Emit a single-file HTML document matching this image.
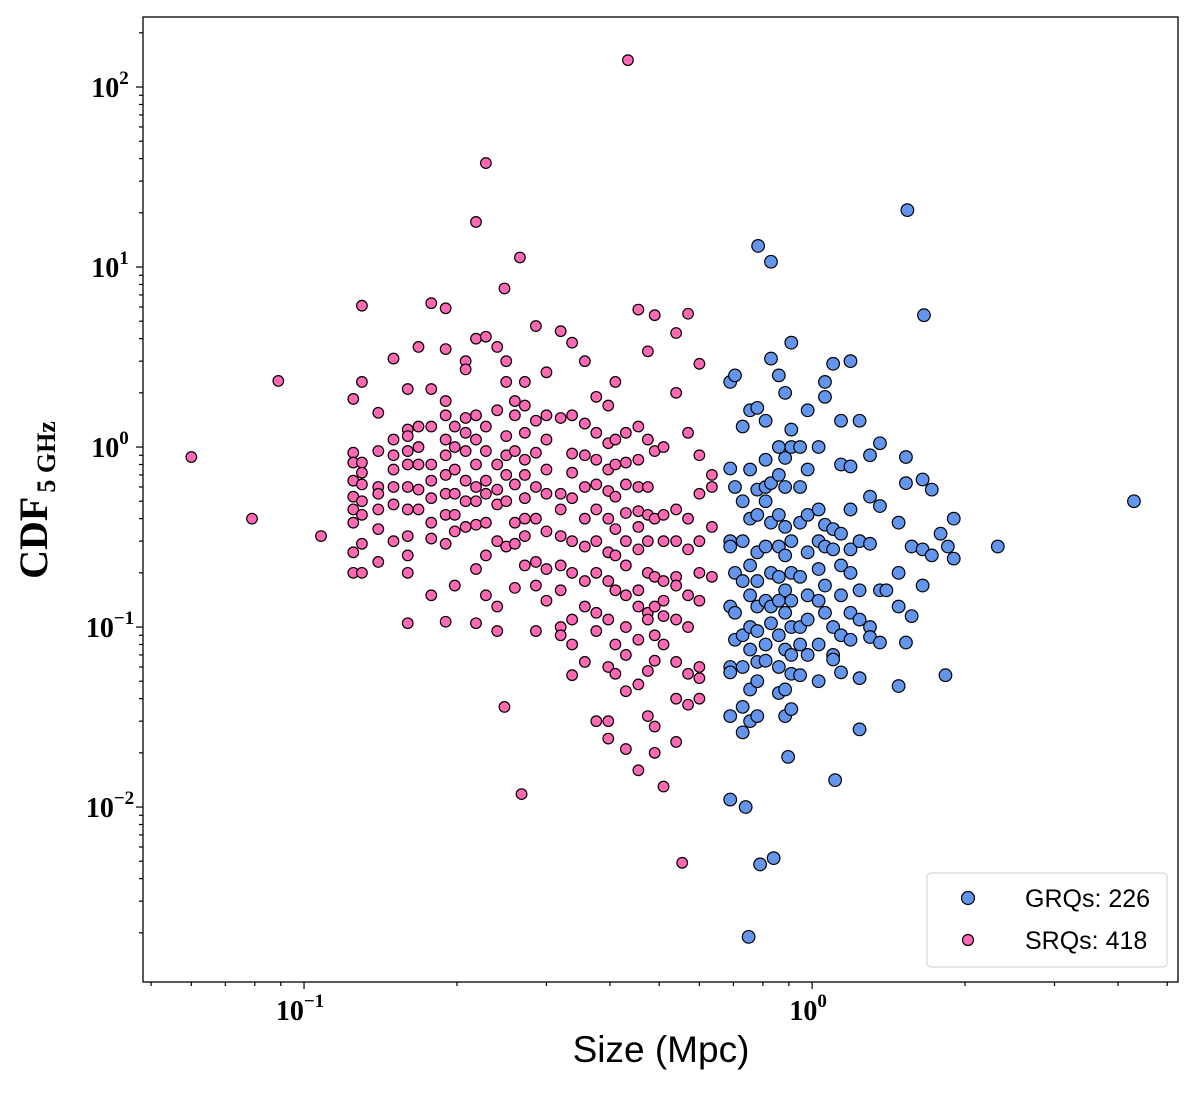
<!DOCTYPE html>
<html><head><meta charset="utf-8"><style>
body{margin:0;background:#fff;}
svg text{font-family:"Liberation Serif",serif;}
</style></head><body>
<svg id="chart" width="1200" height="1091" viewBox="0 0 1200 1091" xmlns="http://www.w3.org/2000/svg">
<g id="marks"></g>
<rect x="143" y="17" width="1035" height="965" fill="none" stroke="#000" stroke-width="1.3"/>
<g id="axes"></g>
<text x="661" y="1062" text-anchor="middle" font-size="37" style="font-family:'Liberation Sans','DejaVu Sans',sans-serif">Size (Mpc)</text>
<text transform="translate(47,500) rotate(-90)" text-anchor="middle" font-size="40" font-weight="bold">CDF<tspan font-size="26" dx="4" dy="8">5 GHz</tspan></text>
<g>
<rect x="927" y="873" width="240" height="94" rx="4" fill="#fff" stroke="#ccc"/>
<circle cx="968" cy="898" r="6.5" fill="#6495ed" stroke="#000" stroke-width="1.2"/>
<text x="1025" y="907" font-size="25" style="font-family:'Liberation Sans',sans-serif">GRQs: 226</text>
<circle cx="968" cy="940" r="5.5" fill="#ff69b4" stroke="#000" stroke-width="1.2"/>
<text x="1025" y="949" font-size="25" style="font-family:'Liberation Sans',sans-serif">SRQs: 418</text>
</g>
</svg>
<script>
const pinkX=[0.06,0.079,0.089,0.108,0.434,0.228,0.218,0.266,0.248,0.268,0.555,0.248];
const pinkY=[0.88,0.40,2.33,0.32,141,37.8,17.8,11.3,7.6,0.0118,0.0049,0.036];
const pinkCols=[
[0.125,[0.93,0.82,0.65,0.53,0.45,0.38,0.26,0.20,1.85]],
[0.13,[6.1,2.3,0.82,0.72,0.62,0.5,0.42,0.29,0.20]],
[0.14,[1.55,0.95,0.6,0.55,0.45,0.35,0.23]],
[0.15,[3.1,1.1,0.9,0.75,0.6,0.48,0.3]],
[0.16,[2.1,1.25,1.15,0.95,0.8,0.6,0.45,0.32,0.25,0.2,0.105]],
[0.168,[3.6,1.3,1.0,0.8,0.58,0.45]],
[0.178,[6.3,2.1,1.3,0.8,0.65,0.52,0.38,0.31,0.15]],
[0.19,[5.9,3.5,1.8,1.5,1.1,0.9,0.7,0.55,0.42,0.29,0.107]],
[0.198,[1.3,1.0,0.75,0.55,0.42,0.34,0.17]],
[0.208,[3.0,2.7,1.45,1.2,0.95,0.65,0.5,0.36]],
[0.218,[4.0,1.5,1.1,0.8,0.6,0.5,0.37,0.21,0.105]],
[0.228,[4.1,1.3,0.95,0.65,0.55,0.38,0.25,0.15]],
[0.24,[3.6,1.6,0.8,0.58,0.48,0.3,0.13,0.095]],
[0.25,[3.0,2.3,1.15,0.9,0.7,0.5,0.28]],
[0.26,[1.8,1.5,0.95,0.62,0.38,0.29,0.165]],
[0.272,[2.3,1.7,1.2,0.85,0.7,0.52,0.22,0.4,0.32]],
[0.286,[4.7,1.4,0.93,0.6,0.4,0.23,0.17,0.095]],
[0.3,[2.6,1.5,1.1,0.75,0.55,0.34,0.21,0.14]],
[0.32,[4.4,1.45,0.55,0.45,0.32,0.22,0.16,0.1,0.09]],
[0.337,[3.8,1.5,0.92,0.72,0.52,0.3,0.2,0.11,0.08,0.054]],
[0.357,[3.0,1.35,0.9,0.6,0.4,0.28,0.18,0.13,0.064]],
[0.376,[1.9,1.2,0.85,0.62,0.45,0.3,0.2,0.12,0.095,0.03]],
[0.397,[1.7,1.05,0.75,0.57,0.4,0.26,0.18,0.11,0.06,0.024,0.03]],
[0.41,[2.3,1.1,0.8,0.53,0.35,0.25,0.16,0.08,0.055]],
[0.43,[1.2,0.82,0.62,0.43,0.3,0.22,0.15,0.1,0.07,0.044,0.021]],
[0.455,[5.8,1.3,0.85,0.6,0.44,0.36,0.27,0.16,0.13,0.085,0.048,0.016]],
[0.475,[3.4,1.1,0.6,0.42,0.3,0.2,0.12,0.11,0.057,0.032]],
[0.49,[5.4,0.95,0.4,0.19,0.13,0.09,0.065,0.028,0.02]],
[0.51,[1.0,0.42,0.3,0.18,0.14,0.115,0.08,0.013]],
[0.54,[4.3,2.0,0.45,0.3,0.19,0.17,0.11,0.064,0.04,0.023]],
[0.57,[5.5,1.2,0.4,0.27,0.15,0.1,0.055,0.037]],
[0.6,[2.9,0.9,0.55,0.3,0.2,0.14,0.06,0.04,0.052]],
[0.635,[0.7,0.6,0.36,0.19]]
];
const blueX=[1.54,1.66,0.783,0.83,4.3,2.32,0.75,0.79,0.84,0.69,0.74,0.897,1.11,1.83];
const blueY=[20.7,5.4,13.1,10.7,0.50,0.28,0.0019,0.0048,0.0052,0.011,0.0100,0.019,0.0141,0.054];
const blueCols=[
[0.69,[2.3,0.76,0.3,0.28,0.13,0.06,0.056,0.032]],
[0.705,[2.5,0.6,0.2,0.12,0.085]],
[0.73,[1.3,0.5,0.3,0.18,0.09,0.06,0.036,0.026]],
[0.755,[1.6,0.75,0.4,0.22,0.15,0.1,0.075,0.045,0.03]],
[0.78,[1.65,0.58,0.42,0.26,0.18,0.13,0.095,0.064,0.05,0.032]],
[0.81,[1.4,0.85,0.6,0.5,0.28,0.14,0.08,0.065]],
[0.83,[3.1,0.63,0.38,0.2,0.13,0.105]],
[0.86,[2.5,1.0,0.7,0.42,0.28,0.19,0.14,0.09,0.06,0.043]],
[0.885,[2.0,0.87,0.6,0.36,0.25,0.16,0.12,0.075,0.045,0.032]],
[0.91,[3.8,1.25,1.0,0.3,0.2,0.14,0.1,0.07,0.055,0.035]],
[0.947,[1.0,0.6,0.38,0.19,0.1,0.08,0.054]],
[0.98,[1.6,0.75,0.42,0.26,0.15,0.11,0.07]],
[1.03,[1.0,0.45,0.3,0.21,0.14,0.08,0.05]],
[1.06,[2.3,1.9,0.37,0.28,0.17,0.12]],
[1.1,[2.9,0.35,0.27,0.1,0.07,0.066]],
[1.14,[1.4,0.8,0.33,0.22,0.15,0.09,0.056]],
[1.19,[3.0,0.78,0.45,0.27,0.2,0.12,0.085]],
[1.24,[1.4,0.3,0.16,0.11,0.052,0.027]],
[1.3,[0.9,0.53,0.29,0.1,0.088]],
[1.36,[1.05,0.47,0.16,0.082]],
[1.4,[0.16]],
[1.48,[0.2,0.38,0.13,0.047]],
[1.53,[0.88,0.63,0.082]],
[1.57,[0.28,0.115]],
[1.65,[0.66,0.27,0.17]],
[1.72,[0.58,0.25]],
[1.79,[0.33]],
[1.85,[0.28]],
[1.9,[0.4,0.24]]
];
const xTickLabels=["10","10"];const xTickExp=["\u22121","0"];const xTickVals=[0.1,1];
const yTickVals=[0.01,0.1,1,10,100];const yTickExp=["\u22122","\u22121","0","1","2"];

const NS="http://www.w3.org/2000/svg";
const X0=143,X1=1178,Y0=17,Y1=982;
const xlo=Math.log10(0.0482),xhi=Math.log10(5.25),ylo=-2.972,yhi=2.389;
function sx(v){return X0+(Math.log10(v)-xlo)/(xhi-xlo)*(X1-X0);}
function sy(v){return Y1-(Math.log10(v)-ylo)/(yhi-ylo)*(Y1-Y0);}
const marks=document.getElementById('marks');
const axes=document.getElementById('axes');
function dot(x,y,r,fill,name){
  const c=document.createElementNS(NS,'circle');
  c.setAttribute('cx',sx(x));c.setAttribute('cy',sy(y));c.setAttribute('r',r);
  c.setAttribute('fill',fill);c.setAttribute('stroke','#000');c.setAttribute('stroke-width','1.2');
  
  
  marks.appendChild(c);
}
pinkCols.forEach(([x,ys])=>ys.forEach(y=>dot(x,y,5.3,'#ff69b4','srq-point')));
pinkX.forEach((x,i)=>dot(x,pinkY[i],5.3,'#ff69b4','srq-point'));
blueCols.forEach(([x,ys])=>ys.forEach(y=>dot(x,y,6.3,'#6495ed','grq-point')));
blueX.forEach((x,i)=>dot(x,blueY[i],6.3,'#6495ed','grq-point'));

function line(x1,y1,x2,y2,name){
  const l=document.createElementNS(NS,'line');
  l.setAttribute('x1',x1);l.setAttribute('y1',y1);l.setAttribute('x2',x2);l.setAttribute('y2',y2);
  l.setAttribute('stroke','#000');l.setAttribute('stroke-width','1.2');
  
  
  axes.appendChild(l);
}
function label(x,y,base,exp,anchor,name){
  const t=document.createElementNS(NS,'text');
  t.setAttribute('x',x);t.setAttribute('y',y);t.setAttribute('text-anchor',anchor);
  t.setAttribute('font-size','28');t.setAttribute('font-weight','bold');
  t.textContent=base;
  const s=document.createElementNS(NS,'tspan');
  s.setAttribute('font-size','19');s.setAttribute('dy','-13');s.textContent=exp;
  t.appendChild(s);
  
  
  axes.appendChild(t);
}
for(let e=-2;e<=0;e++)for(let m=1;m<10;m++){const v=m*Math.pow(10,e);const px=sx(v);
  if(px<X0||px>X1)continue;line(px,Y1,px,Y1+(m==1?7:4),'x-tick');}
for(let e=-3;e<=2;e++)for(let m=1;m<10;m++){const v=m*Math.pow(10,e);const py=sy(v);
  if(py<Y0||py>Y1)continue;line(X0,py,X0-(m==1?7:4),py,'y-tick');}
xTickVals.forEach((v,i)=>label(sx(v)-4,1020,xTickLabels[i],xTickExp[i],'middle','x-tick-label'));
yTickVals.forEach((v,i)=>label(110,sy(v)+10,"10",yTickExp[i],'middle','y-tick-label'));
</script>
</body></html>
